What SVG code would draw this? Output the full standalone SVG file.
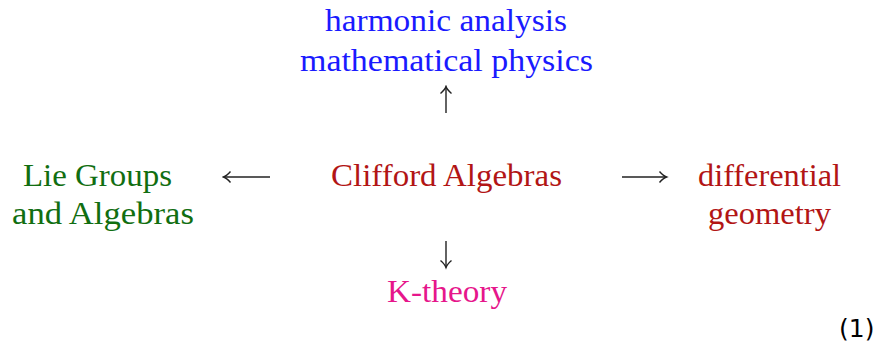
<svg xmlns="http://www.w3.org/2000/svg" width="879" height="347" viewBox="0 0 879 347">
<style>
text{font-family:'Liberation Serif','Times New Roman',Times,serif;font-size:31px}
.blue{fill:#1a1aff}
.red{fill:#b21515}
.green{fill:#116e11}
.pink{fill:#e6168b}
.num{font-family:'DejaVu Sans','Liberation Sans',sans-serif;font-size:25px;fill:#000}
.arr{stroke:#222;stroke-width:1.4;fill:none}
</style>
<defs>
<marker id="ah" viewBox="-10 -6 12 12" markerWidth="12" markerHeight="12" refX="0" refY="0" orient="auto" markerUnits="userSpaceOnUse">
<path d="M-7,-5.5 Q-3,-1 0,0 Q-3,1 -7,5.5" stroke="#222" stroke-width="1.4" fill="none"/>
</marker>
</defs>
<rect width="879" height="347" fill="#fff"/>
<g id="top">
<text class="blue" x="325" y="31" textLength="242" lengthAdjust="spacingAndGlyphs">harmonic analysis</text>
<text class="blue" x="300" y="71" textLength="293" lengthAdjust="spacingAndGlyphs">mathematical physics</text>
</g>
<g id="left">
<text class="green" x="23" y="186" textLength="149" lengthAdjust="spacingAndGlyphs">Lie Groups</text>
<text class="green" x="12" y="224" textLength="182" lengthAdjust="spacingAndGlyphs">and  Algebras</text>
</g>
<g id="center">
<text class="red" x="331" y="186" textLength="231" lengthAdjust="spacingAndGlyphs">Clifford Algebras</text>
</g>
<g id="right">
<text class="red" x="698" y="186" textLength="143" lengthAdjust="spacingAndGlyphs">differential</text>
<text class="red" x="708" y="224" textLength="123" lengthAdjust="spacingAndGlyphs">geometry</text>
</g>
<g id="bottom">
<text class="pink" x="387" y="302" textLength="120" lengthAdjust="spacingAndGlyphs">K-theory</text>
</g>
<g id="connectors">
<path class="arr" d="M446,113 V86.5" marker-end="url(#ah)"/>
<path class="arr" d="M446,241 V267.5" marker-end="url(#ah)"/>
<path class="arr" d="M270,177 H223.5" marker-end="url(#ah)"/>
<path class="arr" d="M622,177 H666.5" marker-end="url(#ah)"/>
</g>
<text class="num" x="839" y="337">(1)</text>
</svg>
